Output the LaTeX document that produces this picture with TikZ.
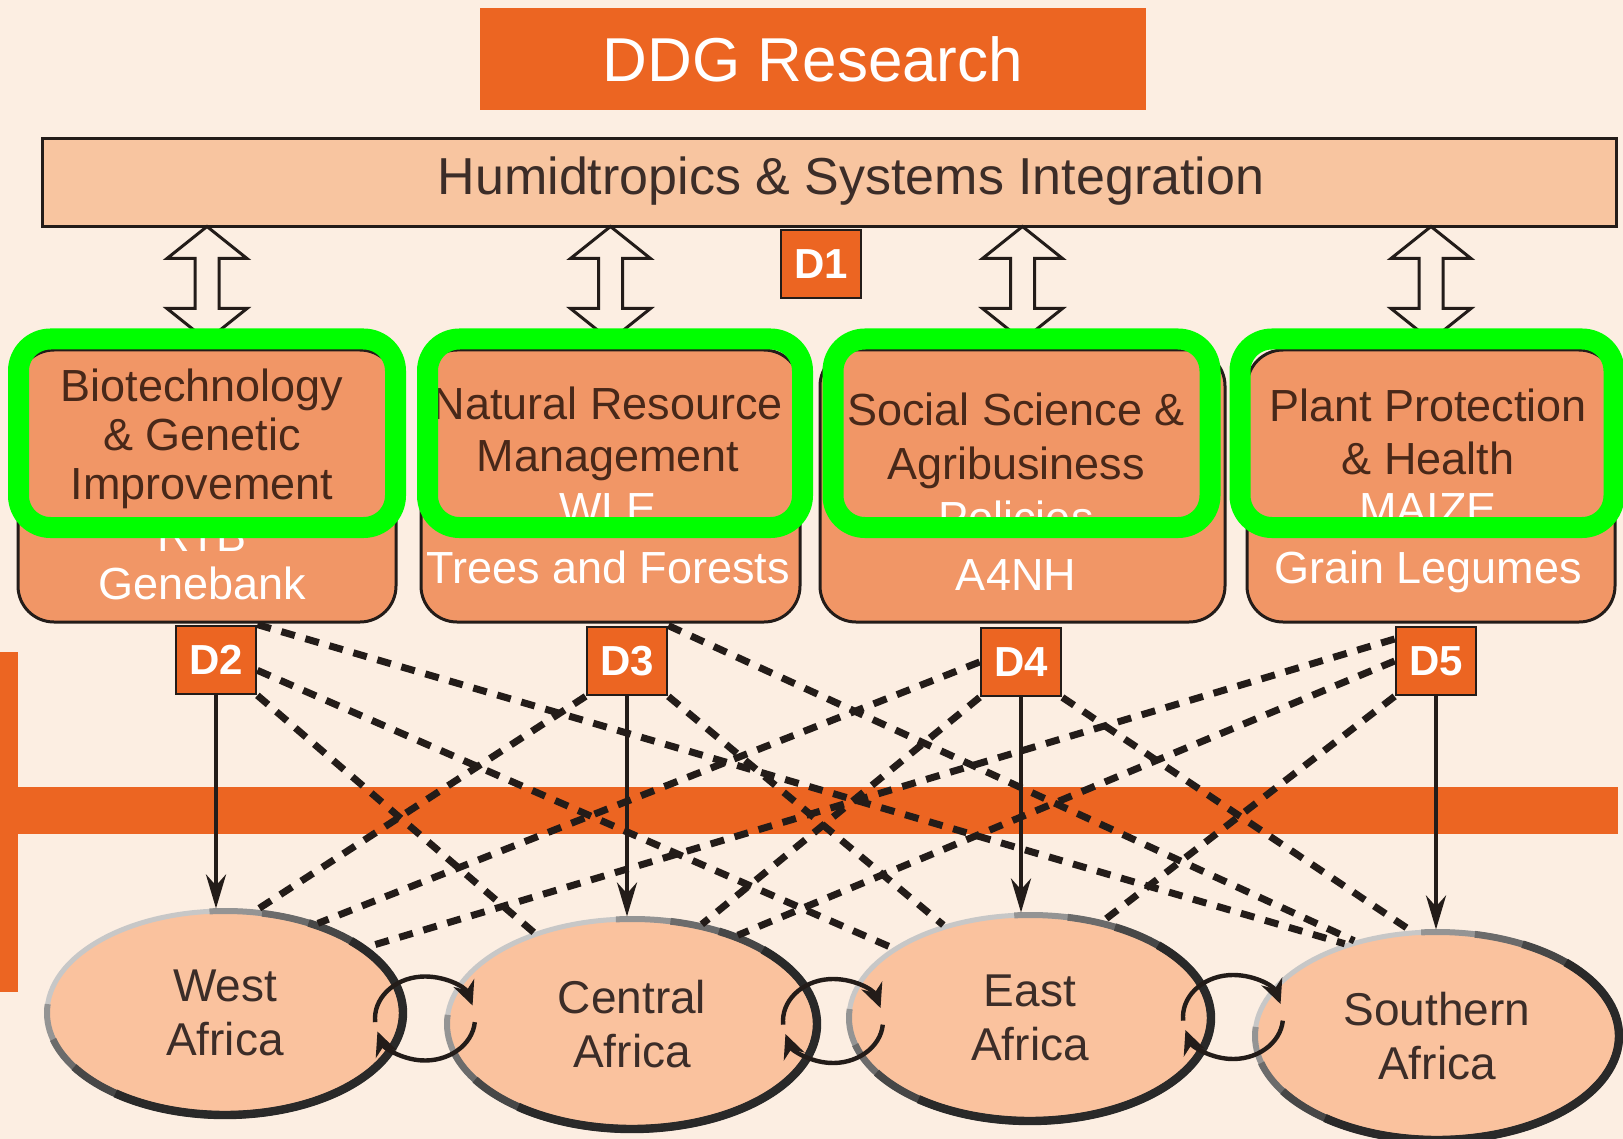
\documentclass[tikz,border=0pt]{standalone}
\usepackage{fontspec}
\setmainfont{Liberation Sans}
\usetikzlibrary{calc,shapes.geometric,arrows.meta}

\definecolor{bgcream}{RGB}{252,238,226}
\definecolor{ddgorange}{RGB}{236,101,34}
\definecolor{barpeach}{RGB}{248,197,160}
\definecolor{modsalmon}{RGB}{241,150,102}
\definecolor{ellpeach}{RGB}{250,194,158}
\definecolor{inkdark}{RGB}{35,28,25}
\definecolor{textbrown}{RGB}{72,40,25}
\definecolor{textgrey}{RGB}{60,45,40}
\definecolor{hilite}{RGB}{0,255,0}

% two-headed hollow arrow rising from a module box to the integration bar
\newcommand\updownlink[1]{%
  \draw[hollowarrow] (#1.north) ++(0,-8) -- ++(40,-32) -- ++(-28,0) -- ++(0,-50)
    -- ++(28,0) -- ++(-40,-32) -- ++(-40,32) -- ++(28,0) -- ++(0,50) -- ++(-28,0) -- cycle;}

% rim of a region ellipse, darkening towards the lower right
\newcommand\rimshade[3]{%
  \draw[line width=3pt, draw=black!42]
    ($(#1.center)+(-95:#2 and #3)$) arc[start angle=-95, end angle=185, x radius=#2, y radius=#3];
  \draw[line width=3.4pt, draw=black!58]
    ($(#1.center)+(-78:#2 and #3)$) arc[start angle=-78, end angle=165, x radius=#2, y radius=#3];
  \draw[line width=3.8pt, draw=black!72]
    ($(#1.center)+(-62:#2 and #3)$) arc[start angle=-62, end angle=148, x radius=#2, y radius=#3];
  \draw[line width=4.2pt, draw=black!84]
    ($(#1.center)+(-45:#2 and #3)$) arc[start angle=-45, end angle=128, x radius=#2, y radius=#3];}

% pair of exchange arrows between neighbouring regions
\newcommand\swaploop[1]{%
  \draw[swaplink] ($(#1)+(-185:50 and 42)$) arc[start angle=-185, end angle=-18, x radius=50, y radius=42];
  \draw[swaplink] ($(#1)+(5:50 and 42)$) arc[start angle=5, end angle=162, x radius=50, y radius=42];}

\begin{document}
\begin{tikzpicture}[x=0.5pt,y=-0.5pt,
  ddgbox/.style={fill=ddgorange, draw=none, minimum width=333pt, minimum height=51pt,
    inner sep=0pt, text=white, font=\fontsize{31}{36}\selectfont},
  humbar/.style={fill=barpeach, draw=inkdark, line width=1.5pt, minimum width=787pt,
    minimum height=44pt, inner sep=0pt},
  humtext/.style={text=textgrey, inner sep=0pt, font=\fontsize{26}{30}\selectfont},
  dtag/.style={fill=ddgorange, draw=inkdark, line width=1.4pt, minimum width=40pt,
    minimum height=34pt, inner sep=0pt, text=white, font=\bfseries\fontsize{21}{24}\selectfont},
  module/.style={fill=modsalmon, draw=inkdark, line width=1.5pt, rounded corners=18pt,
    minimum height=136pt, inner sep=0pt},
  modtext/.style={text=textbrown, align=center, inner sep=0pt},
  subtext/.style={text=white, align=center, inner sep=0pt},
  hiframe/.style={draw=hilite, line width=10.5pt, rounded corners=16pt,
    minimum height=94.25pt, inner sep=0pt},
  region/.style={ellipse, fill=ellpeach, draw=black!22, line width=2.5pt, inner sep=0pt,
    text=textgrey, align=center, font=\fontsize{23}{27}\selectfont},
  hollowarrow/.style={fill=bgcream, draw=inkdark, line width=1.5pt, line join=miter},
  dashlink/.style={draw=inkdark, line width=3.5pt, dash pattern=on 7pt off 5.5pt},
  solidlink/.style={draw=inkdark, line width=2.3pt, -{Stealth[length=17pt,width=10pt]}},
  swaplink/.style={draw=inkdark, line width=2.2pt, -{Stealth[length=12pt,width=11pt]}}
]
% canvas
\fill[bgcream] (0,0) rectangle (1623,1139);
\useasboundingbox (0,0) rectangle (1623,1139);

% orange cross band behind the delivery links
\fill[ddgorange] (0,652) rectangle (18,992);
\fill[ddgorange] (0,787) rectangle (1618,834);

% header and integration bar
\node[ddgbox] (ddg) at (813,59) {DDG Research};
\node[humbar] (hum) at (829.5,182.5) {};
\node[humtext] (humlabel) at (851,181) {Humidtropics \& Systems Integration};
\node[dtag] (d1) at (821,264) {D1};

% research modules
\node[module, minimum width=189pt]   (b1) at (207,486) {};
\node[module, minimum width=189.5pt] (b2) at (610.5,486) {};
\node[module, minimum width=202.5pt] (b3) at (1022.5,486) {};
\node[module, minimum width=184pt]   (b4) at (1431,486) {};

\node[modtext, font=\fontsize{22.5}{24.5}\selectfont] (t1) at (202,439)
  {Biotechnology\\ \& Genetic\\ Improvement};
\node[subtext, font=\fontsize{22.5}{24}\selectfont] (s1) at (202,560) {RTB\\ Genebank};
\node[modtext, font=\fontsize{22.5}{26}\selectfont] (t2) at (608,434)
  {Natural Resource\\ Management};
\node[subtext, font=\fontsize{22.5}{29.5}\selectfont] (s2) at (608,539) {WLE\\ Trees and Forests};
\node[modtext, font=\fontsize{22.5}{27}\selectfont] (t3) at (1016,441)
  {Social Science \&\\ Agribusiness};
\node[subtext, font=\fontsize{22.5}{28.5}\selectfont] (s3) at (1016,546) {Policies\\ A4NH};
\node[modtext, font=\fontsize{22.5}{26.5}\selectfont] (t4) at (1428,431.5)
  {Plant Protection\\ \& Health};
\node[subtext, font=\fontsize{22.5}{29.5}\selectfont] (s4) at (1428,543) {MAIZE\\ Grain Legumes};

% links between modules and the integration bar
\updownlink{b1}
\updownlink{b2}
\updownlink{b3}
\updownlink{b4}

% highlight frames
\node[hiframe, minimum width=188.5pt] (g1) at (207,433.25) {};
\node[hiframe, minimum width=187.5pt] (g2) at (615,433.25) {};
\node[hiframe, minimum width=188.5pt] (g3) at (1021.5,433.25) {};
\node[hiframe, minimum width=187pt]   (g4) at (1427,433.25) {};

% delivery tags
\node[dtag] (d2) at (216,660) {D2};
\node[dtag] (d3) at (627,661) {D3};
\node[dtag] (d4) at (1021,662) {D4};
\node[dtag] (d5) at (1436,661) {D5};

% regions
\node[region, minimum width=178pt, minimum height=102pt] (west) at (225,1013) {West\\ Africa};
\node[region, minimum width=185pt, minimum height=105pt] (central) at (632,1024) {Central\\ Africa};
\node[region, minimum width=181pt, minimum height=103pt] (east) at (1030,1018) {East\\ Africa};
\node[region, minimum width=182pt, minimum height=104pt] (southern) at (1437,1036) {Southern\\ Africa};
\rimshade{west}{178}{102}
\rimshade{central}{185}{105}
\rimshade{east}{181}{103}
\rimshade{southern}{182}{104}

% cross links to the other regions
\draw[dashlink] (d2.north east) -- (southern.135);
\draw[dashlink] (d2.-14) -- (east.153);
\draw[dashlink] (d2.south east) -- (central.137);
\draw[dashlink] (d3.south west) -- (west.73);
\draw[dashlink] (d3.south east) -- (east.133);
\draw[dashlink] (d3.north east) -- (southern.131);
\draw[dashlink] (d4.west) -- (west.44);
\draw[dashlink] (d4.south west) -- (central.55);
\draw[dashlink] (d4.south east) -- (southern.104);
\draw[dashlink] (d5.152) -- (west.25);
\draw[dashlink] (d5.west) -- (central.40);
\draw[dashlink] (d5.south west) -- (east.53);

% direct delivery to each region
\draw[solidlink] (d2.south) -- (d2.south |- west.north);
\draw[solidlink] (d3.south) -- (d3.south |- central.north);
\draw[solidlink] (d4.south) -- (d4.south |- east.north);
\draw[solidlink] (d5.south) -- (d5.south |- southern.north);

% exchanges between neighbouring regions
\coordinate (x1) at ($(west.east)!0.5!(central.west)$);
\coordinate (x2) at ($(central.east)!0.5!(east.west)$);
\coordinate (x3) at ($(east.east)!0.5!(southern.west)+(0,-10)$);
\swaploop{x1}
\swaploop{x2}
\swaploop{x3}
\end{tikzpicture}
\end{document}
